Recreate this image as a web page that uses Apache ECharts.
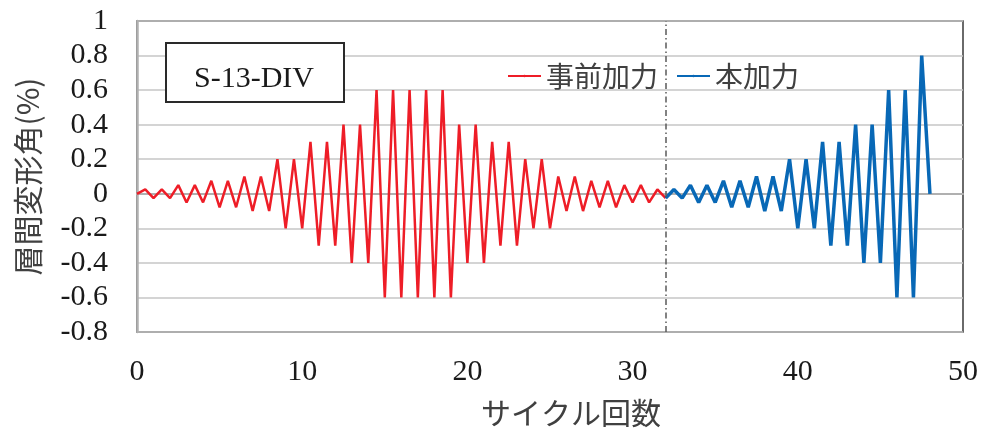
<!DOCTYPE html>
<html>
<head>
<meta charset="utf-8">
<script src="https://cdn.jsdelivr.net/npm/echarts@6/dist/echarts.min.js"></script>
<style>
  html, body { margin: 0; padding: 0; background: #fff; }
  #chart { width: 985px; height: 436px; }
</style>
</head>
<body>
<div id="chart"></div>
<script>
// ---------- data ----------
const seriesNames = ['事前加力', '本加力'];

// 事前加力 (cycles 0 - 32)
const preX = [
  0, 0.5, 1, 1.5, 2, 2.5, 3, 3.5, 4, 4.5, 5, 5.5, 6, 6.5, 7, 7.5, 8,
  8.5, 9, 9.5, 10, 10.5, 11, 11.5, 12, 12.5, 13, 13.5, 14, 14.5, 15, 15.5, 16,
  16.5, 17, 17.5, 18, 18.5, 19, 19.5, 20, 20.5, 21, 21.5, 22, 22.5, 23, 23.5, 24,
  24.5, 25, 25.5, 26, 26.5, 27, 27.5, 28, 28.5, 29, 29.5, 30, 30.5, 31, 31.5, 32
];
const preY = [
  0, 0.025, -0.025, 0.025, -0.025, 0.05, -0.05, 0.05, -0.05, 0.075, -0.078, 0.075, -0.078, 0.1, -0.1, 0.1, -0.1,
  0.2, -0.2, 0.2, -0.2, 0.3, -0.3, 0.3, -0.3, 0.4, -0.4, 0.4, -0.4, 0.6, -0.6, 0.6, -0.6,
  0.6, -0.6, 0.6, -0.6, 0.6, -0.6, 0.4, -0.4, 0.4, -0.4, 0.3, -0.3, 0.3, -0.3, 0.2, -0.2,
  0.2, -0.2, 0.1, -0.1, 0.1, -0.1, 0.075, -0.078, 0.075, -0.078, 0.05, -0.05, 0.05, -0.05, 0.025, -0.025
];

// 本加力 (cycles 32 - 48)
const mainX = [
  32, 32.5, 33, 33.5, 34, 34.5, 35, 35.5, 36, 36.5, 37, 37.5, 38, 38.5, 39, 39.5, 40,
  40.5, 41, 41.5, 42, 42.5, 43, 43.5, 44, 44.5, 45, 45.5, 46, 46.5, 47, 47.5, 48
];
const mainY = [
  -0.025, 0.025, -0.025, 0.05, -0.05, 0.05, -0.05, 0.075, -0.078, 0.075, -0.078, 0.1, -0.1, 0.1, -0.1, 0.2, -0.2,
  0.2, -0.2, 0.3, -0.3, 0.3, -0.3, 0.4, -0.4, 0.4, -0.4, 0.6, -0.6, 0.6, -0.6, 0.8, 0
];

const dividerX = 32;
const specimenLabel = 'S-13-DIV';
// ---------------------------

const toPairs = (xs, ys) => xs.map((x, i) => [x, ys[i]]);

const chart = echarts.init(document.getElementById('chart'));

const serif = '"Liberation Serif", "DejaVu Serif", serif';
const cjk = '"Noto Sans CJK JP", "Noto Sans", sans-serif';

const option = {
  backgroundColor: '#ffffff',
  animation: false,
  grid: {
    left: 137,
    right: 22,
    top: 21,
    bottom: 104,
    show: true,
    borderColor: '#3a3a3a',
    borderWidth: 1.5,
  },
  legend: {
    data: seriesNames,
    left: 502,
    top: 57,
    itemWidth: 33,
    itemHeight: 3,
    itemGap: 18,
    textStyle: {
      fontFamily: cjk,
      fontSize: 28,
      color: '#404040',
    },
  },
  xAxis: {
    type: 'value',
    min: 0,
    max: 50,
    interval: 10,
    name: 'サイクル回数',
    nameLocation: 'middle',
    nameGap: 66,
    nameTextStyle: {
      fontFamily: cjk,
      fontSize: 30,
      color: '#404040',
      padding: [0, 0, 0, 42],
    },
    axisLine: { show: true, lineStyle: { color: '#b0b0b0', width: 2 } },
    axisTick: { show: false },
    splitLine: { show: false },
    axisLabel: {
      margin: 25,
      fontFamily: serif,
      fontSize: 30,
      color: '#1a1a1a',
    },
  },
  yAxis: {
    type: 'value',
    min: -0.8,
    max: 1,
    interval: 0.2,
    name: '層間変形角(%)',
    nameLocation: 'middle',
    nameRotate: 90,
    nameGap: 94,
    nameTextStyle: {
      fontFamily: cjk,
      fontSize: 30,
      color: '#404040',
    },
    axisLine: { show: true, lineStyle: { color: '#b0b0b0', width: 2.5 } },
    axisTick: { show: false },
    splitLine: { show: true, lineStyle: { color: '#c6c6c6', width: 1.5 } },
    axisLabel: {
      margin: 29,
      fontFamily: serif,
      fontSize: 30,
      color: '#1a1a1a',
      formatter: (v) => String(Math.round(v * 10) / 10),
    },
  },
  series: [
    {
      name: seriesNames[0],
      type: 'line',
      data: toPairs(preX, preY),
      symbol: 'none',
      lineStyle: { color: '#ee1d27', width: 2.5 },
      itemStyle: { color: '#ee1d27' },
      z: 3,
      markLine: {
        silent: true,
        symbol: 'none',
        label: { show: false },
        lineStyle: { color: '#5a5a5a', type: [6, 3, 1.5, 3], width: 1.5 },
        data: [{ xAxis: dividerX }],
      },
    },
    {
      name: seriesNames[1],
      type: 'line',
      data: toPairs(mainX, mainY),
      symbol: 'none',
      lineStyle: { color: '#0868b6', width: 3.5 },
      itemStyle: { color: '#0868b6' },
      z: 4,
    },
  ],
  graphic: [
    {
      type: 'rect',
      left: 165,
      top: 42,
      z: 10,
      shape: { width: 178, height: 59 },
      style: { fill: '#ffffff', stroke: '#2a2a2a', lineWidth: 2 },
    },
    {
      type: 'text',
      x: 254,
      y: 79,
      z: 11,
      style: {
        text: specimenLabel,
        fontFamily: serif,
        fontSize: 30,
        fill: '#1a1a1a',
        align: 'center',
        verticalAlign: 'middle',
      },
    },
  ],
};

chart.setOption(option);
</script>
</body>
</html>
